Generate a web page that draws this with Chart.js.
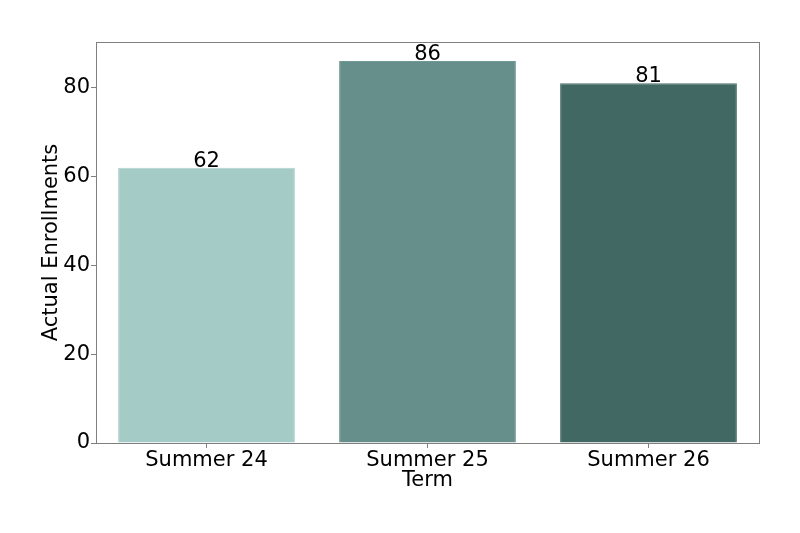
<!DOCTYPE html>
<html lang="en">
<head>
<meta charset="UTF-8">
<title>Actual Enrollments</title>
<script src="https://cdn.jsdelivr.net/npm/chart.js"></script>
<style>
  html, body { margin: 0; padding: 0; background: #fff; }
  #wrap { width: 800px; height: 533px; }
</style>
</head>
<body>
<div id="wrap"><canvas id="myChart" width="800" height="533"></canvas></div>
<script>
// dados do grafico
var termos = ['Summer 24', 'Summer 25', 'Summer 26'];
var matriculas = [62, 86, 81];
var cores = ['#a5cbc7', '#668f8b', '#426863'];
var bordas = ['#b0d2ce', '#709894', '#4d716c'];
var ticks_y = [0, 20, 40, 60, 80];

var fonte = 'DejaVu Sans';
var tam = 21;
var cinza = '#7f7f7f';

// moldura em volta da area do grafico
const moldura = {
  id: 'moldura',
  afterDraw(chart) {
    const a = chart.chartArea;
    const ctx = chart.ctx;
    ctx.save();
    ctx.strokeStyle = cinza;
    ctx.lineWidth = 1;
    ctx.strokeRect(a.left + 0.5, a.top + 0.5, a.right - a.left, a.bottom - a.top);
    ctx.restore();
  }
};

// numeros em cima das barras
const rotulos = {
  id: 'rotulos',
  afterDatasetsDraw(chart) {
    const ctx = chart.ctx;
    const meta = chart.getDatasetMeta(0);
    ctx.save();
    ctx.fillStyle = '#000';
    ctx.font = tam + 'px "' + fonte + '"';
    ctx.textAlign = 'center';
    ctx.textBaseline = 'bottom';
    meta.data.forEach(function (bar, i) {
      ctx.fillText(String(matriculas[i]), bar.x, bar.y + 4);
    });
    ctx.restore();
  }
};

new Chart(document.getElementById('myChart'), {
  type: 'bar',
  data: {
    labels: termos,
    datasets: [{
      data: matriculas,
      backgroundColor: cores,
      borderColor: bordas,
      borderWidth: 1,
      borderSkipped: 'bottom',
      categoryPercentage: 0.8,
      barPercentage: 1.0
    }]
  },
  options: {
    responsive: false,
    animation: false,
    devicePixelRatio: 1,
    layout: { padding: { top: 42, right: 41, left: 0, bottom: 0 } },
    plugins: {
      legend: { display: false },
      tooltip: { enabled: false }
    },
    scales: {
      x: {
        offset: true,
        grid: { display: true, offset: false, drawOnChartArea: false, drawTicks: true, tickLength: 5, color: cinza },
        border: { display: true, color: cinza },
        ticks: { color: '#000', font: { family: fonte, size: tam }, padding: 0, maxRotation: 0 },
        title: { display: true, text: 'Term', color: '#000', font: { family: fonte, size: tam }, padding: { top: 0, bottom: 40 } },
        afterFit(scale) { scale.height = 90; }
      },
      y: {
        min: 0,
        max: 90.3,
        afterBuildTicks(scale) { scale.ticks = ticks_y.map(function (v) { return { value: v }; }); },
        grid: { display: true, drawOnChartArea: false, drawTicks: true, tickLength: 5, color: cinza },
        border: { display: true, color: cinza },
        ticks: { color: '#000', font: { family: fonte, size: tam }, padding: 1 },
        title: { display: true, text: 'Actual Enrollments', color: '#000', font: { family: fonte, size: tam }, padding: { top: 39, bottom: 0 } },
        afterFit(scale) { scale.width = 96; }
      }
    }
  },
  plugins: [moldura, rotulos]
});
</script>
</body>
</html>
